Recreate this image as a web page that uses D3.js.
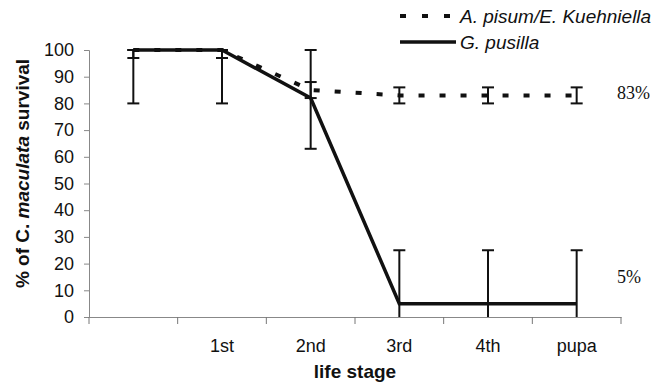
<!DOCTYPE html>
<html>
<head>
<meta charset="utf-8">
<script src="https://cdn.jsdelivr.net/npm/d3@7"></script>
<style>
    body { margin: 0; background: #fff; }
    svg text { font-family: "Liberation Sans", Arial, sans-serif; fill: #111; }
</style>
</head>
<body>
<svg id="chart" width="670" height="386"></svg>
<script>
// life stages (first band has no label)
const stages = ['egg', '1st', '2nd', '3rd', '4th', 'pupa'];
const stageLabels = ['', '1st', '2nd', '3rd', '4th', 'pupa'];

// A. pisum/E. Kuehniella (dashed)
const pisumValues = [100, 100, 85, 83, 83, 83];
const pisumLow = [97, 97, 82, 80, 80, 80];
const pisumHigh = [100, 100, 88, 86, 86, 86];

// G. pusilla (solid)
const pusillaValues = [100, 100, 82, 5, 5, 5];
const pusillaLow = [80, 80, 63, 0, 0, 0];
const pusillaHigh = [100, 100, 100, 25, 25, 25];

const yTicks = [0, 10, 20, 30, 40, 50, 60, 70, 80, 90, 100];
const endLabels = [{ text: '83%', value: 84 }, { text: '5%', value: 15 }];

const margin = { top: 50, right: 49, bottom: 69, left: 89 },
    width = 670 - margin.left - margin.right,
    height = 386 - margin.top - margin.bottom;

const svg = d3.select('#chart')
    .append('g')
    .attr('transform', `translate(${margin.left},${margin.top})`);

let x = d3.scaleBand()
    .domain(stages)
    .range([0, width])
    .padding(0);

let y = d3.scaleLinear()
    .domain([0, 100])
    .range([height, 0]);

const cx = s => x(s) + x.bandwidth() / 2;

// axes
let yAxis = svg.append('g')
    .call(d3.axisLeft(y).tickValues(yTicks).tickSize(5).tickPadding(10));
yAxis.selectAll('text').style('font-size', '18px');

let xAxis = svg.append('g')
    .attr('transform', `translate(0,${height})`)
    .call(d3.axisBottom(x).tickSize(0).tickFormat((d, i) => stageLabels[i]).tickPadding(22));
xAxis.selectAll('text').style('font-size', '18px');

// x ticks sit on the band edges
xAxis.selectAll('.edge')
    .data(d3.range(stages.length + 1))
    .enter()
    .append('line')
    .attr('x1', i => i * x.step())
    .attr('x2', i => i * x.step())
    .attr('y1', 0)
    .attr('y2', 7)
    .attr('stroke', '#777');

svg.selectAll('.domain').attr('stroke', '#888');
yAxis.selectAll('.tick line').attr('stroke', '#888');

// error bars
function errorBars(low, high, cls) {
    let g = svg.append('g').attr('class', cls);
    stages.forEach((s, i) => {
        g.append('line')
            .attr('x1', cx(s)).attr('x2', cx(s))
            .attr('y1', y(low[i])).attr('y2', y(high[i]))
            .attr('stroke', '#111').attr('stroke-width', 2);
        [low[i], high[i]].forEach(v => {
            if (v <= 0) return;
            g.append('line')
                .attr('x1', cx(s) - 6).attr('x2', cx(s) + 6)
                .attr('y1', y(v)).attr('y2', y(v))
                .attr('stroke', '#111').attr('stroke-width', 2);
        });
    });
}
errorBars(pusillaLow, pusillaHigh, 'err-pusilla');
errorBars(pisumLow, pisumHigh, 'err-pisum');

let line = d3.line()
    .x((d, i) => cx(stages[i]))
    .y(d => y(d));

svg.append('path')
    .datum(pisumValues)
    .attr('fill', 'none')
    .attr('stroke', '#111')
    .attr('stroke-width', 4)
    .attr('stroke-dasharray', '6,15')
    .attr('d', line);

svg.append('path')
    .datum(pusillaValues)
    .attr('fill', 'none')
    .attr('stroke', '#111')
    .attr('stroke-width', 3.5)
    .attr('d', line);

// end labels
svg.selectAll('.end')
    .data(endLabels)
    .enter()
    .append('text')
    .attr('x', width - 4)
    .attr('y', d => y(d.value))
    .attr('dy', '0.35em')
    .style('font-family', '"Liberation Serif", "Times New Roman", serif')
    .style('font-size', '18px')
    .text(d => d.text);

// axis titles
svg.append('text')
    .attr('x', width / 2)
    .attr('y', height + 61)
    .attr('text-anchor', 'middle')
    .style('font-size', '19px')
    .style('font-weight', 'bold')
    .text('life stage');

let yTitle = svg.append('text')
    .attr('transform', `translate(${-60},${y(50) - 10}) rotate(-90)`)
    .attr('text-anchor', 'middle')
    .style('font-size', '19px')
    .style('font-weight', 'bold');
yTitle.append('tspan').text('% of C. ');
yTitle.append('tspan').style('font-style', 'italic').text('maculata');
yTitle.append('tspan').text(' survival');

// legend
const legend = d3.select('#chart').append('g');
const legendItems = [
    { name: 'A. pisum/E. Kuehniella', dash: '6,16', y: 16 },
    { name: 'G. pusilla', dash: null, y: 42 }
];
legendItems.forEach(d => {
    legend.append('line')
        .attr('x1', 400).attr('x2', 456)
        .attr('y1', d.y).attr('y2', d.y)
        .attr('stroke', '#111')
        .attr('stroke-width', d.dash ? 4 : 3.5)
        .attr('stroke-dasharray', d.dash);
    legend.append('text')
        .attr('x', 460)
        .attr('y', d.y)
        .attr('dy', '0.35em')
        .style('font-size', '19px')
        .style('font-style', 'italic')
        .text(d.name);
});
</script>
</body>
</html>
